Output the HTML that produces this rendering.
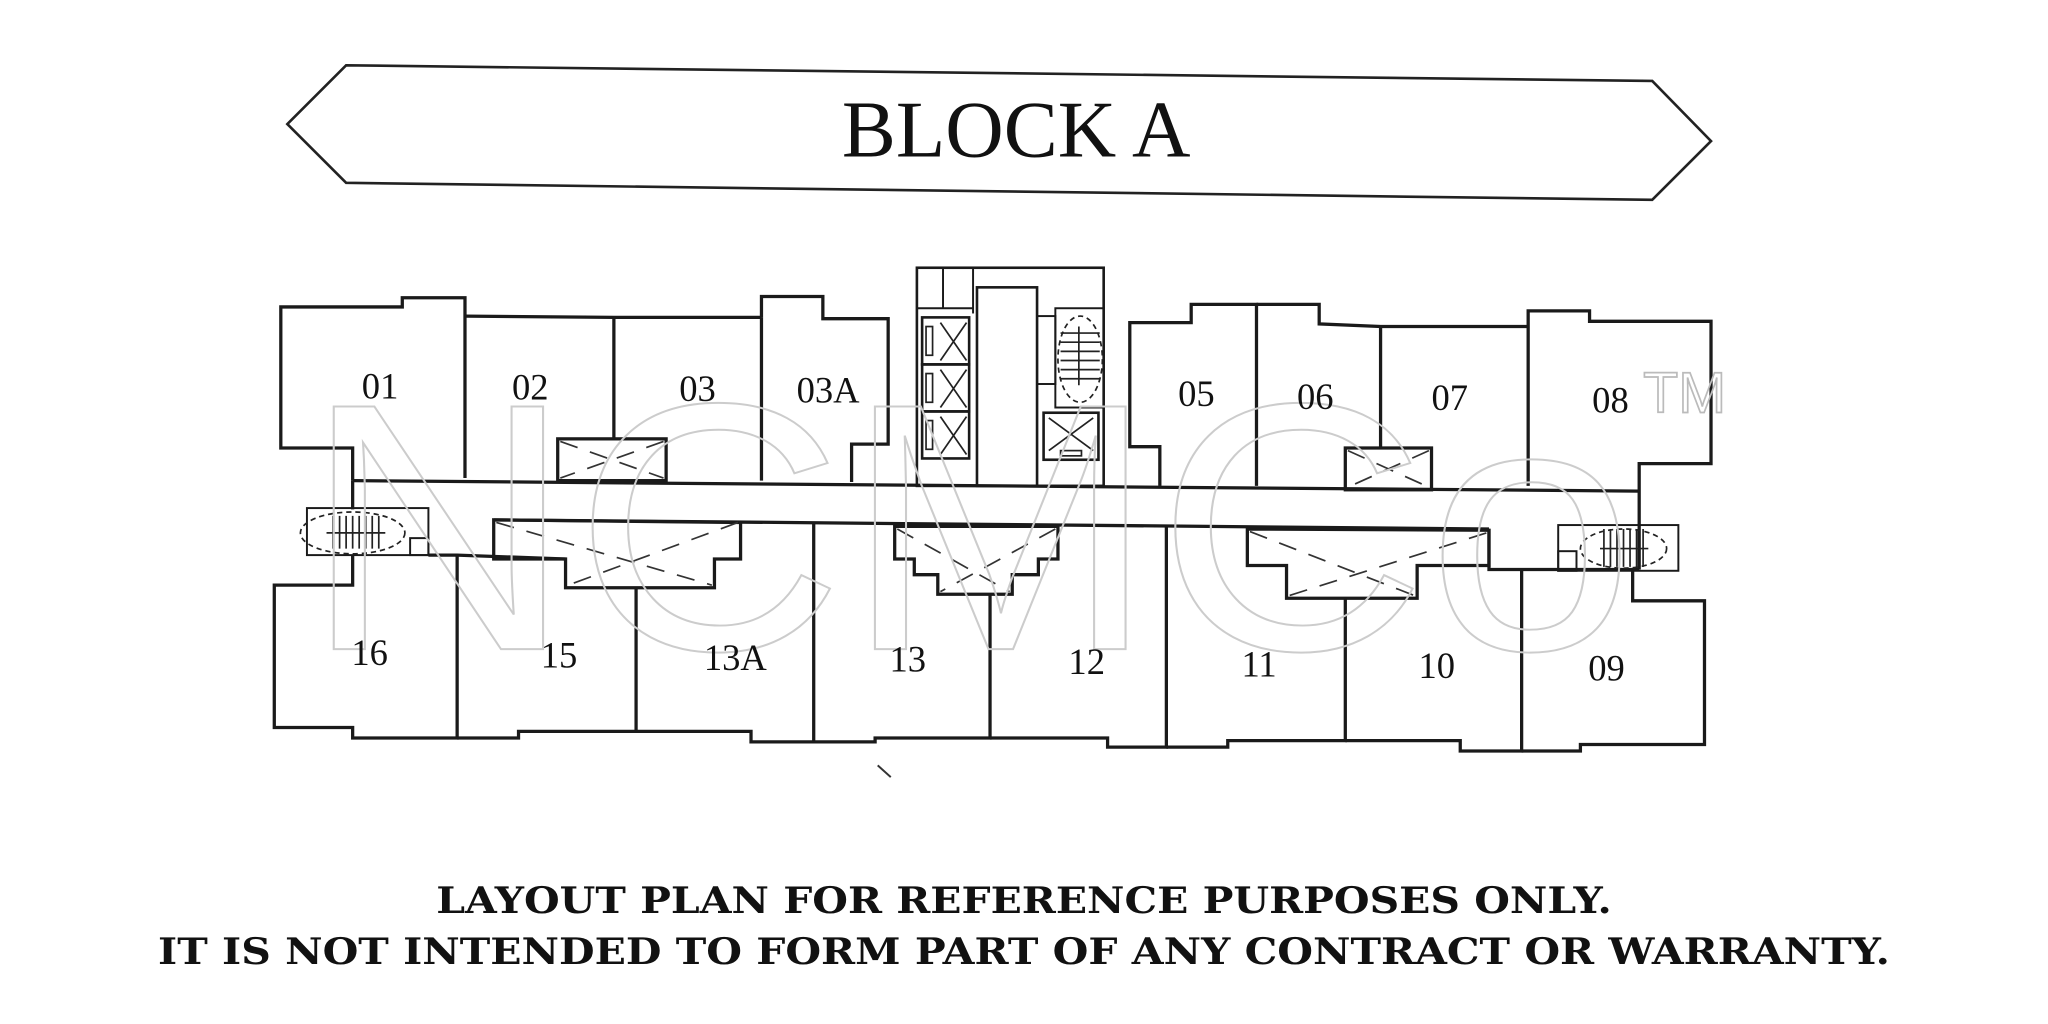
<!DOCTYPE html>
<html><head><meta charset="utf-8"><style>
html,body{margin:0;padding:0;background:#fff;}
svg{display:block;}
</style></head><body>
<svg width="2048" height="1024" viewBox="0 0 1568 784" xmlns="http://www.w3.org/2000/svg">
<rect width="1568" height="784" fill="#fff"/>
<!-- banner -->
<polygon points="220,95 265,50 1265,62 1310,108 1265,153 265,140" fill="#fff" stroke="#222" stroke-width="2"/>
<text x="778" y="120" font-family="Liberation Serif, serif" font-size="62" text-anchor="middle" fill="#111">BLOCK A</text>

<g fill="none" stroke="#1a1a1a" stroke-width="2.5" stroke-linejoin="miter">
<!-- top row outline -->
<polyline points="270,368 270,343 215,343 215,235 308,235 308,228 356,228 356,366"/>
<polyline points="356,242 470,243 583,243"/>
<line x1="470" y1="243" x2="470" y2="336"/>
<polyline points="583,243 583,227 630,227 630,244 680,244 680,340 652,340 652,369"/>
<line x1="583" y1="243" x2="583" y2="368"/>
<!-- void 02/03 -->
<rect x="427" y="336" width="83" height="32"/>
<!-- core -->
<rect x="702" y="205" width="143" height="167" stroke-width="2"/>
<line x1="702" y1="236" x2="745" y2="236" stroke-width="1.5"/>
<line x1="722" y1="205" x2="722" y2="236" stroke-width="1.5"/>
<line x1="745" y1="205" x2="745" y2="240" stroke-width="1.5"/>
<rect x="748" y="220" width="46" height="152" stroke-width="2"/>
<rect x="706" y="243" width="36" height="36" stroke-width="2"/>
<rect x="706" y="279" width="36" height="36" stroke-width="2"/>
<rect x="706" y="315" width="36" height="36" stroke-width="2"/>
<rect x="808" y="236" width="37" height="76" stroke-width="1.5"/>
<rect x="794" y="242" width="14" height="52" stroke-width="1.5"/>
<rect x="799" y="316" width="42" height="36" stroke-width="2"/>
<!-- 05-08 -->
<polyline points="888,372 888,342 865,342 865,247 912,247 912,233 962,233 962,372"/>
<polyline points="962,233 1010,233 1010,248 1057,250 1170,250"/>
<line x1="1057" y1="250" x2="1057" y2="343"/>
<polyline points="1170,372 1170,238 1217,238 1217,246 1310,246 1310,355 1255,355 1255,436"/>
<rect x="1030" y="343" width="66" height="32"/>
<!-- corridor -->
<line x1="270" y1="368" x2="1255" y2="376"/>
<line x1="378" y1="398" x2="1140" y2="405"/>
<line x1="270" y1="368" x2="270" y2="390"/>
<!-- bottom row -->
<polyline points="1140,405 1140,436 1255,436"/>
<polyline points="328,425 350,425 433,428"/>
<polyline points="270,425 270,448 210,448 210,557 270,557 270,565 350,565 350,425"/>
<polyline points="350,565 397,565 397,560 487,560 487,450"/>
<polyline points="487,560 575,560 575,568 623,568 623,400"/>
<polyline points="623,568 670,568 670,565 758,565 758,455"/>
<polyline points="758,565 848,565 848,572 893,572 893,403"/>
<polyline points="893,572 940,572 940,567 1030,567 1030,458"/>
<polyline points="1030,567 1118,567 1118,575 1165,575 1165,437"/>
<polyline points="1165,575 1210,575 1210,570 1305,570 1305,460 1250,460 1250,437"/>
<!-- voids -->
<polygon points="378,398 567,400 567,428 547,428 547,450 433,450 433,428 378,428"/>
<polygon points="685,403 810,403 810,428 795,428 795,440 775,440 775,455 718,455 718,440 700,440 700,428 685,428"/>
<polygon points="955,405 1140,406 1140,433 1085,433 1085,458 985,458 985,433 955,433"/>
<!-- stairs -->
<rect x="235" y="389" width="93" height="36" stroke-width="1.5"/>
<rect x="1193" y="402" width="92" height="35" stroke-width="1.5"/>
<rect x="314" y="412" width="14" height="13" stroke-width="1.5"/>
<rect x="1193" y="422" width="14" height="15" stroke-width="1.5"/>
</g>
<!-- lift X's and dashed -->
<g stroke="#222" stroke-width="1.3" fill="none">
<path d="M720,247 L740,276 M740,247 L720,276 M720,283 L740,312 M740,283 L720,312 M720,319 L740,348 M740,319 L720,348"/>
<rect x="709" y="250" width="5" height="22"/><rect x="709" y="286" width="5" height="22"/><rect x="709" y="322" width="5" height="22"/>
<path d="M803,320 L837,345 M837,320 L803,345"/>
<rect x="812" y="345" width="16" height="4"/>
<path d="M812,255 H842 M812,262 H842 M812,269 H842 M812,276 H842 M812,283 H842 M812,290 H842 M826,250 V295"/>
<ellipse cx="827" cy="275" rx="17" ry="33" stroke-dasharray="4,3"/>
<path d="M255,395 V420 M260,395 V420 M265,395 V420 M270,395 V420 M275,395 V420 M280,395 V420 M285,395 V420 M290,395 V420 M250,408 H295"/>
<ellipse cx="270" cy="408" rx="40" ry="16" stroke-dasharray="4,3"/>
<path d="M1228,405 V434 M1233,405 V434 M1238,405 V434 M1243,405 V434 M1248,405 V434 M1253,405 V434 M1258,405 V434 M1225,420 H1262"/>
<ellipse cx="1243" cy="420" rx="33" ry="15" stroke-dasharray="4,3"/>
</g>
<g stroke="#333" stroke-width="1.3" stroke-dasharray="14,10">
<path d="M429,338 L508,366 M508,338 L429,366"/>
<path d="M1032,345 L1094,373 M1094,345 L1032,373"/>
<path d="M380,400 L545,448 M565,400 L435,448"/>
<path d="M687,405 L773,453 M808,405 L720,453"/>
<path d="M957,407 L1083,456 M1138,408 L987,456"/>
</g>
<line x1="672" y1="586" x2="682" y2="595" stroke="#333" stroke-width="1.5"/>
<!-- watermark -->
<text x="232" y="497" font-family="Liberation Sans, sans-serif" font-size="270" fill="none" stroke="#ccc" stroke-width="1.5" textLength="1020" lengthAdjust="spacingAndGlyphs">NCMCo</text>
<text x="1258" y="316" font-family="Liberation Sans, sans-serif" font-size="44" fill="none" stroke="#bbb" stroke-width="1.3">TM</text>
<!-- labels -->
<g font-family="Liberation Serif, serif" font-size="28" fill="#111" text-anchor="middle">
<text x="291" y="305">01</text><text x="406" y="306">02</text><text x="534" y="307">03</text><text x="634" y="308">03A</text>
<text x="916" y="311">05</text><text x="1007" y="313">06</text><text x="1110" y="314">07</text><text x="1233" y="316">08</text>
<text x="283" y="509">16</text><text x="428" y="511">15</text><text x="563" y="513">13A</text><text x="695" y="514">13</text>
<text x="832" y="516">12</text><text x="964" y="518">11</text><text x="1100" y="519">10</text><text x="1230" y="521">09</text>
</g>
<g font-family="DejaVu Serif, Liberation Serif, serif" font-weight="bold" font-size="28" fill="#111" text-anchor="middle">
<text x="784" y="699" textLength="900" lengthAdjust="spacingAndGlyphs">LAYOUT PLAN FOR REFERENCE PURPOSES ONLY.</text>
<text x="784" y="738" textLength="1326" lengthAdjust="spacingAndGlyphs">IT IS NOT INTENDED TO FORM PART OF ANY CONTRACT OR WARRANTY.</text>
</g>
</svg>
</body></html>
